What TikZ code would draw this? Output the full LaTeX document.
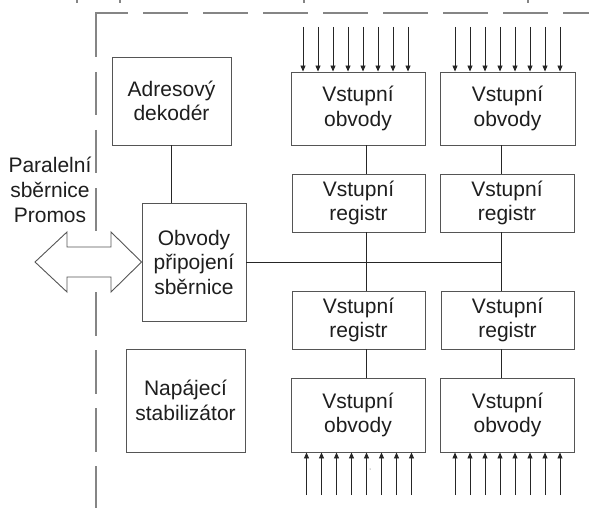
\documentclass[tikz,border=0pt]{standalone}
\usepackage{fontspec}
\setmainfont{Liberation Sans}
\usetikzlibrary{arrows.meta}
\definecolor{boxc}{HTML}{555555}
\definecolor{dashc}{HTML}{858585}
\definecolor{txt}{HTML}{1E1E1E}
\tikzset{
  blk/.style={draw=boxc, line width=0.9pt, fill=white, inner sep=0pt, align=center,
    text=txt, font=\fontsize{21}{24.5}\selectfont},
  wire/.style={draw=black!85, line width=0.8pt},
  inarr/.style={draw=black!85, line width=0.8pt, -{Triangle[length=6pt,width=5pt]}},
  frame/.style={draw=dashc, line width=1.1pt},
}
\begin{document}
\begin{tikzpicture}[x=1pt,y=-1pt]
\useasboundingbox (0,0) rectangle (589,508);
% dashed frame
\draw[frame] (96,57) -- (96,13) -- (128,13);
\draw[frame, dash pattern=on 45pt off 15pt] (143,13) -- (589,13);
\draw[frame, dash pattern=on 43pt off 15pt] (96,72) -- (96,232);
\draw[frame, dash pattern=on 43.5pt off 14.5pt] (96,292) -- (96,509);
% small marks at top edge
\foreach \x in {77,120,304,528} \draw[draw=dashc, line width=1.1pt] (\x,0) -- (\x,3);
% blocks
\node[blk, minimum width=119pt, minimum height=88pt] (adr) at (171.5,101) {Adresový\\dekodér};
\node[blk, minimum width=104pt, minimum height=118pt] (obv) at (194,262) {Obvody\\připojení\\sběrnice};
\node[blk, minimum width=119pt, minimum height=103pt] (nap) at (185.5,400.5) {Napájecí\\stabilizátor};
\node[blk, minimum width=134pt, minimum height=73pt] (vo1) at (358,108.5) {Vstupní\\obvody};
\node[blk, minimum width=135pt, minimum height=73pt] (vo2) at (507.5,108.5) {Vstupní\\obvody};
\node[blk, minimum width=133pt, minimum height=58pt] (vr1) at (358.5,203) {Vstupní\\registr};
\node[blk, minimum width=134pt, minimum height=58pt] (vr2) at (507,203) {Vstupní\\registr};
\node[blk, minimum width=133pt, minimum height=58pt] (vr3) at (358.5,320) {Vstupní\\registr};
\node[blk, minimum width=133pt, minimum height=58pt] (vr4) at (507.5,320) {Vstupní\\registr};
\node[blk, minimum width=134pt, minimum height=74pt] (vo3) at (358,415) {Vstupní\\obvody};
\node[blk, minimum width=134pt, minimum height=74pt] (vo4) at (507.5,415) {Vstupní\\obvody};
% label
\node[align=center, text=txt, font=\fontsize{21}{25}\selectfont, inner sep=0pt] (lbl) at (50,190) {Paralelní\\sběrnice\\Promos};
% column lines
\coordinate (c1) at (366,0);
\coordinate (c2) at (501,0);
\draw[wire] (adr.south) -- (adr.south |- obv.north);
\draw[wire] (vo1.south -| c1) -- (vr1.north -| c1);
\draw[wire] (vr1.south -| c1) -- (vr3.north -| c1);
\draw[wire] (vr3.south -| c1) -- (vo3.north -| c1);
\draw[wire] (vo2.south -| c2) -- (vr2.north -| c2);
\draw[wire] (vr2.south -| c2) -- (vr4.north -| c2);
\draw[wire] (vr4.south -| c2) -- (vo4.north -| c2);
\draw[wire] (obv.east) -- (obv.east -| c2);
% input arrows
\foreach \x in {303,318,...,408} \draw[inarr] (\x,27) -- (\x,0 |- vo1.north);
\foreach \x in {455,470,...,560} \draw[inarr] (\x,27) -- (\x,0 |- vo2.north);
\foreach \x in {306.5,321.5,...,412} \draw[inarr] (\x,495) -- (\x,0 |- vo3.south);
\foreach \x in {455,470,...,560} \draw[inarr] (\x,495) -- (\x,0 |- vo4.south);
% stray dot
\fill[black!70] (370,469) circle (0.5pt);
% double arrow
\draw[draw=boxc, line width=0.9pt, fill=white, line join=miter]
  (35,262) -- (67,232) -- (67,247) -- (111,247) -- (111,232) -- (obv.west)
  -- (111,292) -- (111,277) -- (67,277) -- (67,292) -- cycle;
\end{tikzpicture}
\end{document}
